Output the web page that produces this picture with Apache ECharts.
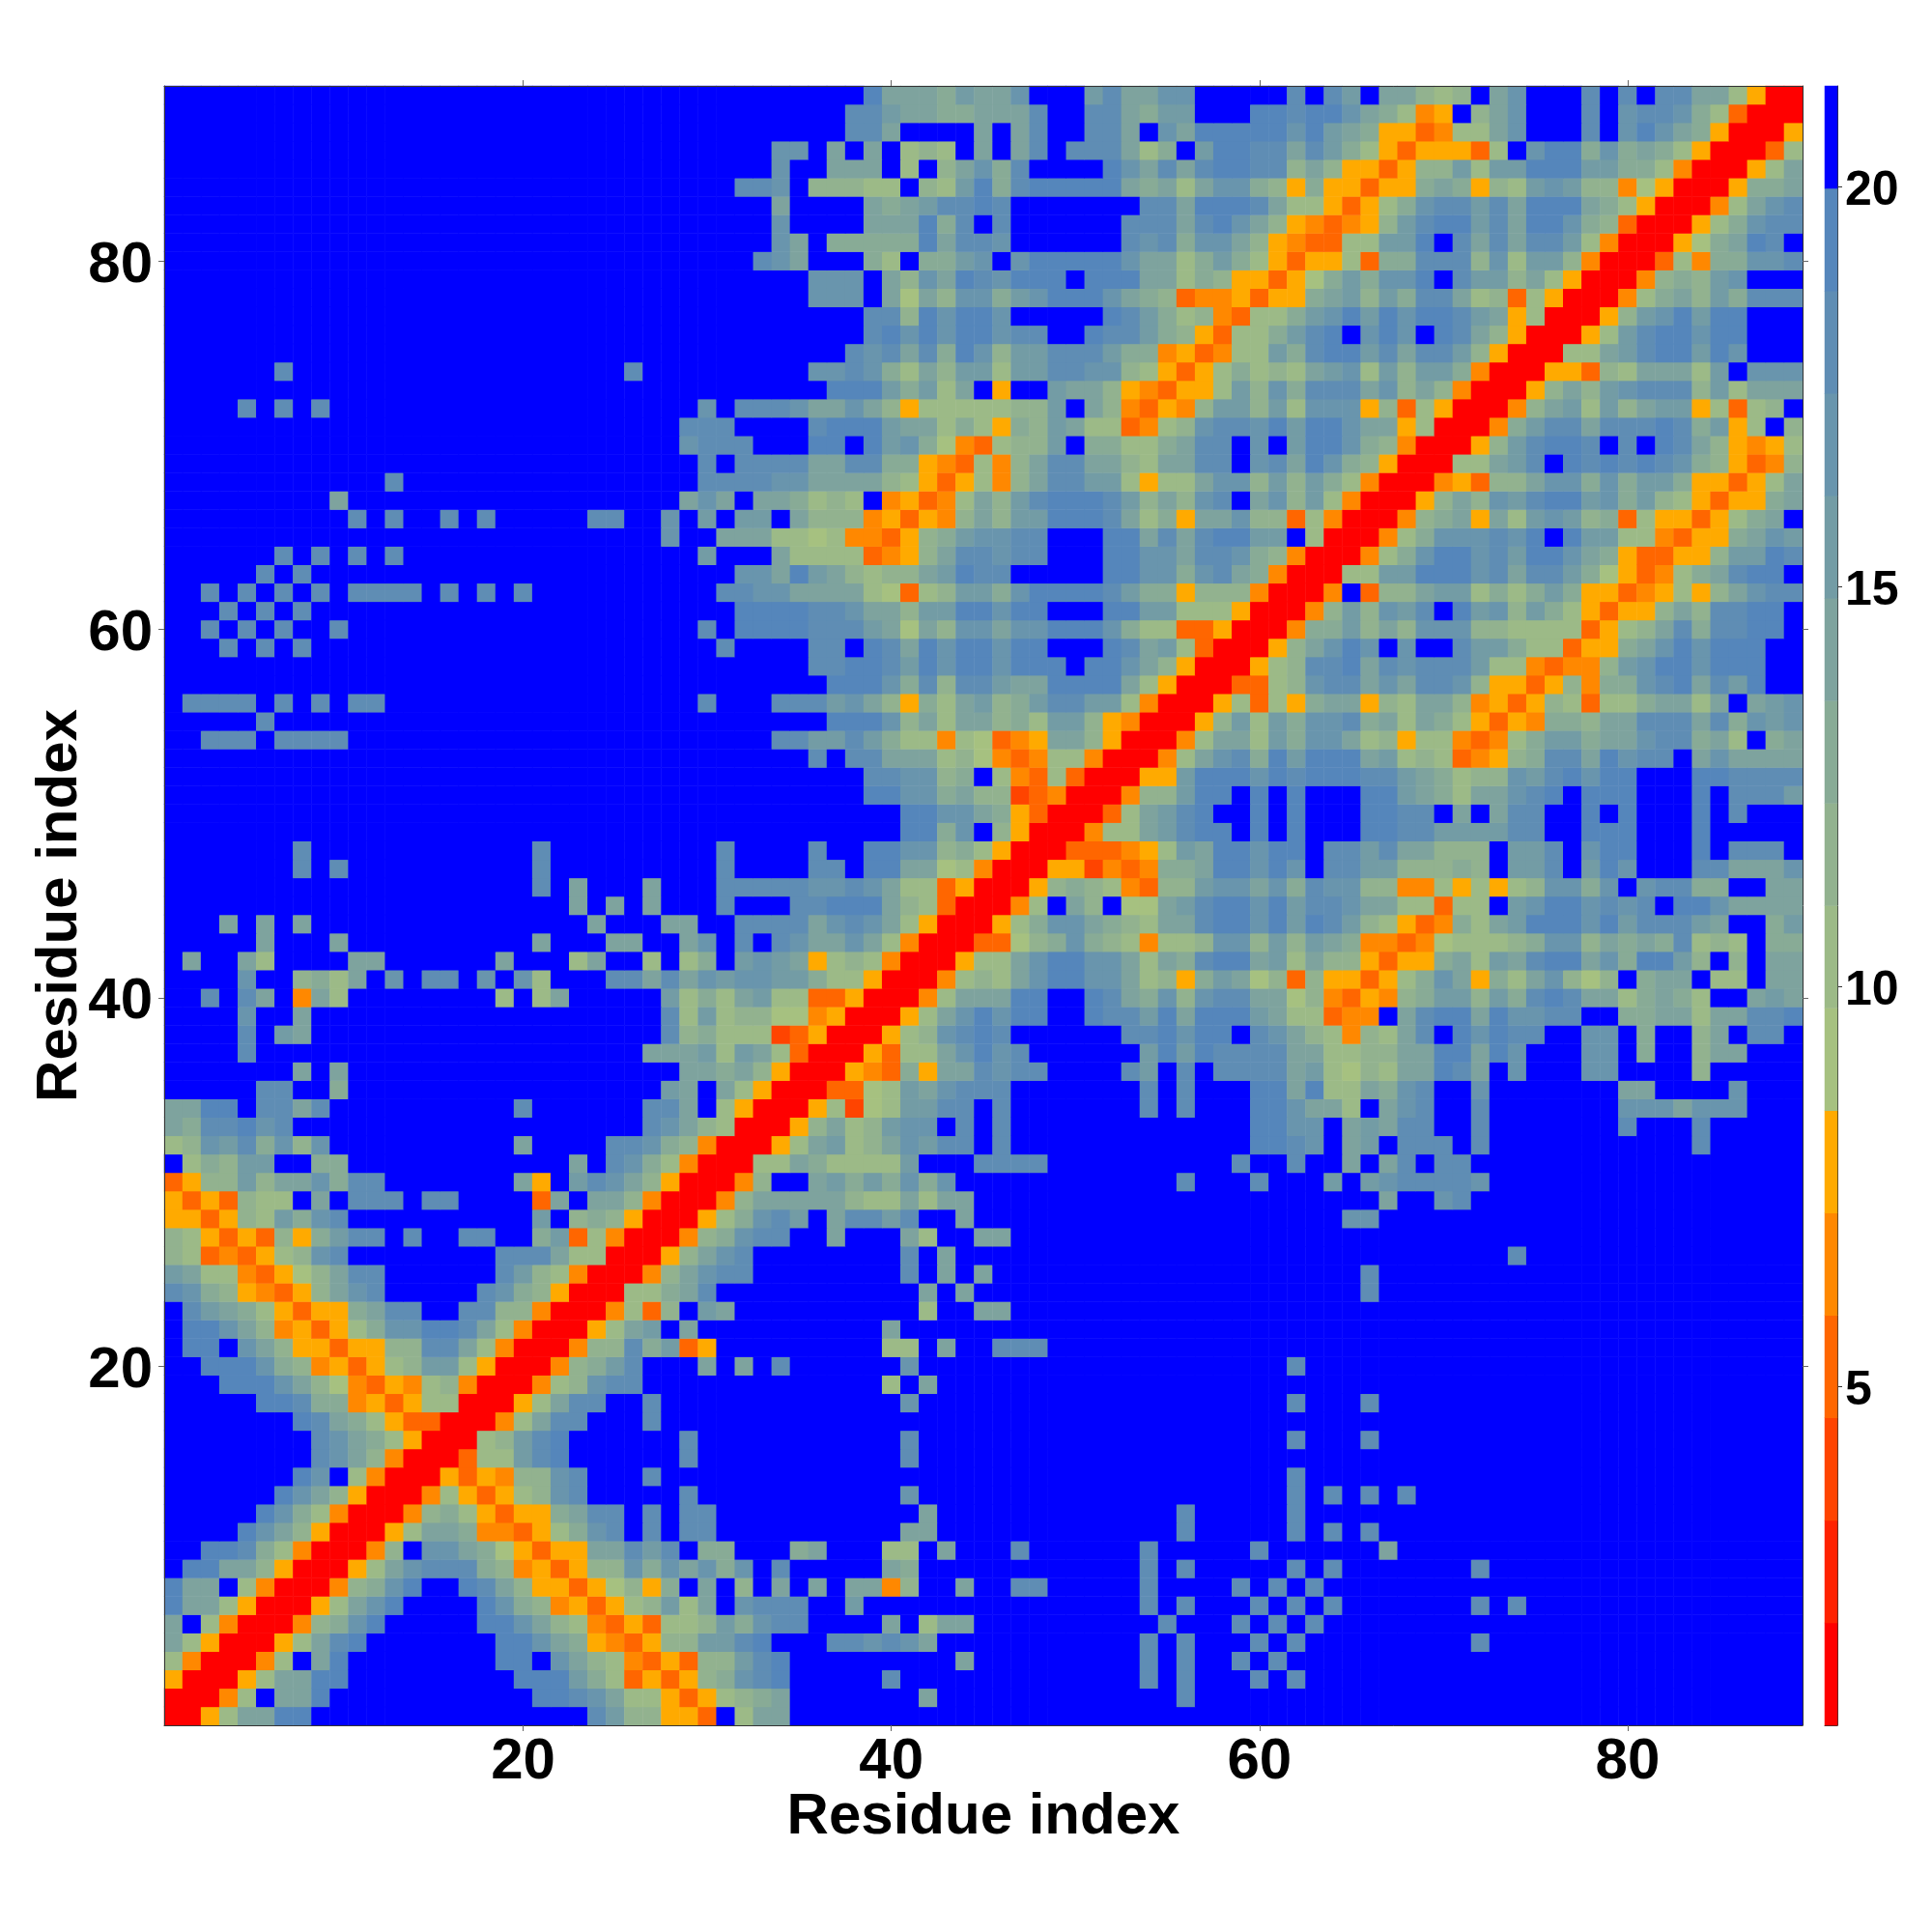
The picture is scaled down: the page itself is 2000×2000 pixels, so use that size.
<!DOCTYPE html>
<html><head><meta charset="utf-8">
<style>html,body{margin:0;padding:0;background:#fff}#c{width:2000px;height:2000px}</style>
<script src="https://cdn.jsdelivr.net/npm/echarts@6/dist/echarts.min.js"></script>
</head><body><div id="c"></div>
<script>
// Residue count and axis text
const residueCount = 89;
const axisTitle = 'Residue index';
const axisTickValues = [20, 40, 60, 80];
const colorbarTickValues = [5, 10, 15, 20];
const colorbarMin = 0.76, colorbarMax = 21.26;

// Colour bands, lowest distance first (code 0..f)
const bandColors = ['#ff0000','#ff2200','#ff4400','#ff6600','#ff8800','#ffaa00','#a6c180','#9cba87','#92b28f','#88ab96','#7ea39e','#739ca5','#6995ad','#5f8db4','#5586bb','#0000ff'];

// Band codes. Each row is top to bottom, left to right.
// The map is symmetric, so only cells with x <= y are listed. Omitted trailing cells are code f.
// x 1-22, y 89..67
const blockX1Y89 = ['','','','','','','','','','','','','','','','ffffffd','','ffffdfdfd','','','','ffffffffffffd','fffffffffa'];
// x 23-44, y 89..67
const blockX23Y89 = [
'ffffffffffffffffeaaa9b','fffffffffffffffddbaa99','fffffffffffffffdda','fffffffffffccfafaf787f','fffffffffffcffaaaf7f8a',
'fffffffffddcf88877f87b','fffffffffffaffffa9abdd','fffffffffffcffffaaae9d','fffffffffffcaf99999ead','ffffffffffdcafff97f99b',
'fffffffffffffcccfa8cae','fffffffffffffcccfa6a8c','ffffffffffffffffdd8ece','ffffffffffffffffdecece','fffffffffffffffdcdad9e',
'fffdfffffffffccdc97a8b','ffffffffffffffeeeb9b7a','fffffffcfdddcaaca85777','ffffffdddffffdeeebaa79','ffffffcdddfffeefebc964',
'fffffffdfddddaadd99543','fffffffddddccaaaa87535','ffffffacafaa9787f45347'];
// x 45-66, y 89..67
const blockX45Y89 = [
'aacfffbdaaccfffffdfdbf','aaadffdda9bbfffeedeeca','afadffddafcaeeeeeceba9','afadfddda79fbeeddadb97','c9dffffecadadeedd8a855',
'e9deeeeea9a7acc9859553','edfffffffddaeeeda77535','fdffffffdddadeca854345','dcffffffdcd9cca8543377','cfceeeeecaa79b97535573',
'dceeefeeeaa798553569b9','c9bceeeca9834453559ab8','ecfffffedb97843779bceb','ecddffeddb9853779bdefc','c8bbdddb99453477b9deeb',
'b7bbddcc8753579787abc7','f5ffbaa8543557b8c9ddda','7788bfa843548bb8b7ccc5','7598ba773478cddcebeeca','3788bf99779addfcfbeec9',
'748addaa87aaddfcdaec98','748addbb7577acc8b8b974','a8bdeeedb8a8cdfac8b740'];
// x 67-89, y 89..67
const blockX67Y89 = [
'aa878facfffdfdfddaa7500','9745f8acfffdfcddc97300','553477acfffdfceca9500','5355537fcee9c9a97500','3588b7bbeeebb997400',
'559a9587bcb8846500','79cddbdaeeea97500','8bdeebdaeec98300','bbefdadaddb7400','99ddd8c7bb8400','ccefdbb8a7500','b9dda7837500',
'eceedba5700','ecfeda8500','daddb8500','b8bb9400','c8a8400','837500','a5700','8400','500','00','0'];
// x 1-22, y 66..45
const blockX1Y66 = ['ffffffffffdfdffdfd','','ffffffdfdfdfd','fffffdfd','ffdfdfdfdfddddfdfdfd','fffdfdfd','ffdfdfdffd','fffdfdfd','','',
'fddddfdfdfdd','fffffd','ffdddfdddd','','','','','','fffffffdffffffffffffd','fffffffdfdffffffffffd','ffffffffffffffffffffd',''];
// x 23-44, y 66..45
const blockX23Y66 = [
'fddffcfbfbbfa888453548','fffffcffaaa7767443589b','fffffffbfffa77773458ad','fffffffffccaeba8788abe','ffffffffddccaaaa76378b',
'fffffffffeeeeddcaa8bbe','fffffffdfeeeedddba6a8c','ffffffffdffffddfedaece','fffffffffffffddeedbece','ffffffffffffffeeec9d8d',
'fffffffdfffdddbca8597a','ffffffffffffffeeec8a7a','fffffffffffddbbdb97747','fffffffffffffdfddaaa78','ffffffffffffffffddcc89',
'ffffffffffffffffeecc9a','ffffffffffffffffffeecc','ffffffffffffffffffee9c','ffffffffdffffdffeecc89','ffffffffdffffddfeeaa67',
'afffafffdddddccdca7735','afafafffdfffddeeea8730'];
// x 45-66, y 66..45
const blockX45Y66 = [
'a8bbeeeda795aac8837400','ccddfffeeadadeebbf700','dcddfffeeccaddc98400','ddfffffeecc9cda9400','b9ceeeedb995888400',
'eceefffeebb777500','cacceeec97733500','eceefffedab7300','eceeefeeca8500','dbaaeeeea7500','b89bddbb7400','a897bb85400',
'6345aa8500','643477400','f7437300','8823400','a95300','f8500','7500','400','00','0'];
// x 1-22, y 44..23
const blockX1Y44 = [
'fffafafa','fffffafffaffffffffffa','faffa7ffffaaffffffa','ffffcff897afcfddfcfc7f','ffdfdaf4a7ffffffff7f7a','ffffcffa','ffffdfba','ffffd',
'fffffffafa','fffffddff9','aaeefddadffffffffffd','a9ddecd','78cbd9c8cffffffffffa','f798bbff99','3588b8aac9ddfffffffa5f','5353877fafdddfddffff3a',
'553587b9cdffffffffffbf','875353859bddfdffddff9b','87343578cdffffffffddda','ba7743568addffffffdb87','dc9854358acdfffffdc985','fdba9753559addffdd8840'];
// x 23-44, y 44..23
const blockX23Y44 = [
'fafffaaffddddacdca7500','ffaaffacfdfdcaaca7400','7aff7f79fbcba5787400','ffddadacbccbb977500','fffffb797ab7733500','fffffd7b788664500',
'fffffd8977723500','ffffaaab7ba7300','ffffffaa9a8500','fffffbafa7500','ffffddaf7500','ffffdca8700','ffddc98400','afdc97400','bdca8500','faa8400',
'898500','37400','7700','400','00','0'];
// x 1-22, y 22..1
const blockX1Y22 = [
'feeca8453579cceeda7400','feefca85535588dda7400','ffeeec98453578bb7500','fffeeeca86435478400',
'fffffeed9945357700','fffffffeda9753300','ffffffffdca97500','ffffffffdca8400','fffffffecf7400','ffffffeca8500','fffffec97400',
'ffffeca8500','ffeed97400','feeaa8500','eaaf7400','eaa7500','af7400','a7500','7400','500','00','0'];

// Fill the symmetric matrix of band codes from the blocks
const codes = Array.from({length: residueCount}, () => new Array(residueCount).fill(15));
function loadBlock(rows, firstX, topY) {
  rows.forEach((row, r) => {
    [...row].forEach((ch, c) => {
      const x = firstX + c, y = topY - r;
      if (x > residueCount || y < 1) return;
      const v = parseInt(ch, 16);
      codes[y - 1][x - 1] = v;
      codes[x - 1][y - 1] = v;
    });
  });
}
loadBlock(blockX1Y89, 1, 89); loadBlock(blockX23Y89, 23, 89); loadBlock(blockX45Y89, 45, 89); loadBlock(blockX67Y89, 67, 89);
loadBlock(blockX1Y66, 1, 66); loadBlock(blockX23Y66, 23, 66); loadBlock(blockX45Y66, 45, 66);
loadBlock(blockX1Y44, 1, 44); loadBlock(blockX23Y44, 23, 44);
loadBlock(blockX1Y22, 1, 22);

const bandSize = (colorbarMax - colorbarMin) / bandColors.length;
const bandValue = b => colorbarMin + bandSize * (b + 0.5);
const residues = Array.from({length: residueCount}, (_, i) => String(i + 1));
const mapData = [];
codes.forEach((row, y) => row.forEach((b, x) => mapData.push([x, y, bandValue(b)])));
const barData = bandColors.map((_, b) => [0, b, bandValue(b)]);
const bandNames = bandColors.map((_, b) => String(b));

const font = '"Liberation Sans", Arial, sans-serif';
const showTick = (i, v) => axisTickValues.includes(Number(v));
const catAxis = (extra) => Object.assign({
  type: 'category', data: residues, boundaryGap: true, gridIndex: 0,
  axisLine: {show: true, lineStyle: {color: '#333', width: 1}},
  axisTick: {show: true, alignWithLabel: true, interval: showTick, length: 6, lineStyle: {color: '#666', width: 1}},
  axisLabel: {show: false}, splitLine: {show: false}, z: 5
}, extra);
const labelStyle = {show: true, interval: showTick, color: '#000', fontFamily: font, fontWeight: 'bold', fontSize: 60};

const chart = echarts.init(document.getElementById('c'), null, {renderer: 'canvas', width: 2000, height: 2000});
chart.setOption({
  animation: false,
  backgroundColor: '#fff',
  tooltip: {show: false},
  grid: [
    {left: 170, top: 89, width: 1696, height: 1697, containLabel: false},
    {left: 1889, top: 89, width: 13, height: 1697, containLabel: false}
  ],
  xAxis: [
    catAxis({position: 'bottom', axisLabel: Object.assign({}, labelStyle, {margin: 8}),
      name: axisTitle, nameLocation: 'middle', nameGap: 65, nameMoveOverlap: false,
      nameTextStyle: {color: '#000', fontFamily: font, fontWeight: 'bold', fontSize: 60}}),
    catAxis({position: 'top'}),
    {type: 'category', gridIndex: 1, data: ['bar'], axisLine: {show: true, lineStyle: {color: '#333'}}, axisTick: {show: false}, axisLabel: {show: false}}
  ],
  yAxis: [
    catAxis({position: 'left', axisLabel: Object.assign({}, labelStyle, {margin: 12, verticalAlign: 'top', lineHeight: 10}),
      name: axisTitle, nameLocation: 'middle', nameGap: 78, nameRotate: 90, nameMoveOverlap: false,
      nameTextStyle: {color: '#000', fontFamily: font, fontWeight: 'bold', fontSize: 60}}),
    catAxis({position: 'right'}),
    {type: 'category', gridIndex: 1, data: bandNames, show: false},
    {type: 'value', gridIndex: 1, position: 'right', min: colorbarMin, max: colorbarMax,
      axisLine: {show: true, lineStyle: {color: '#333'}},
      axisTick: {show: true, customValues: colorbarTickValues, length: 5, lineStyle: {color: '#333'}},
      axisLabel: {show: true, customValues: colorbarTickValues, margin: 8, verticalAlign: 'top', lineHeight: 10, color: '#000', fontFamily: font, fontWeight: 'bold', fontSize: 50},
      splitLine: {show: false}}
  ],
  visualMap: {
    show: false, type: 'piecewise', seriesIndex: [0, 1], dimension: 2,
    pieces: bandColors.map((color, b) => ({gte: colorbarMin + bandSize * b, lt: colorbarMin + bandSize * (b + 1), color}))
  },
  series: [
    {type: 'heatmap', xAxisIndex: 0, yAxisIndex: 0, data: mapData, progressive: 0, silent: true, emphasis: {disabled: true}},
    {type: 'heatmap', xAxisIndex: 2, yAxisIndex: 2, data: barData, progressive: 0, silent: true, emphasis: {disabled: true}}
  ]
});
</script></body></html>
